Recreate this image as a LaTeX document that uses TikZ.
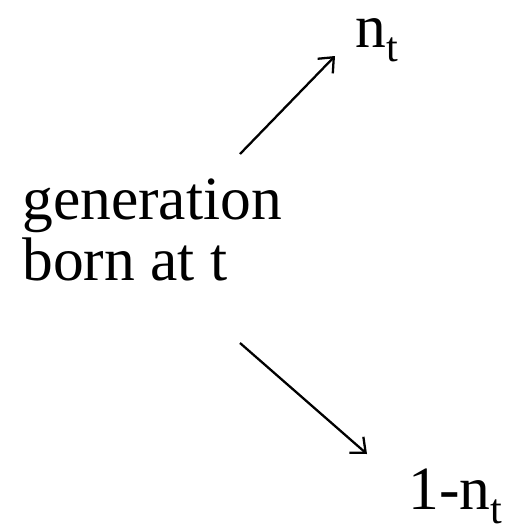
\documentclass[tikz,border=0pt]{standalone}
\usepackage{fontspec}
\setmainfont{Liberation Serif}
\usetikzlibrary{arrows.meta, positioning}

\newcommand{\lowsub}[1]{\raisebox{-8pt}{\fontsize{24}{24}\selectfont #1}}

\begin{document}
\begin{tikzpicture}[x=0.02cm, y=-0.02cm, >={Straight Barb[length=7pt, width=12pt]}]
    \tikzset{
        label/.style={inner sep=0pt, anchor=base west, font=\rmfamily\fontsize{35}{34.6}\selectfont},
        branch/.style={draw, ->, line width=1.3pt}
    }
    \useasboundingbox (0,0) rectangle (510,528);

    % base of a two-line node is its last line
    \node (Gen) [label, align=left] at (22,280) {generation\\born at t};
    \node (Nt) [label] at (355,47) {n\lowsub{t}};
    \node (OneMinus) [label] at (408,509) {1-n\lowsub{t}};

    \coordinate (ForkTop) at (240,154);
    \coordinate (ForkBot) at (240,343);

    \path [branch] (ForkTop) -- ([shift={(-20,9)}]Nt.base west);
    \path [branch] (ForkBot) -- ([shift={(-41,-55)}]OneMinus.base west);

\end{tikzpicture}
\end{document}
